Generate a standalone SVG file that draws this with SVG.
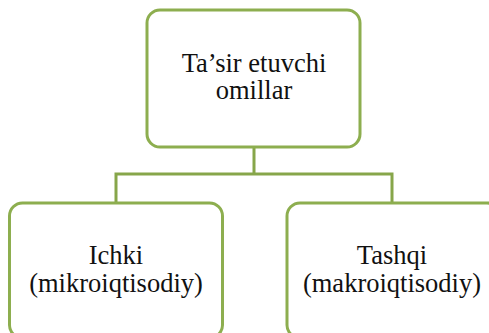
<svg xmlns="http://www.w3.org/2000/svg" width="489" height="333" viewBox="0 0 489 333">
<style>
.box{fill:#ffffff;stroke:#8DAE4F;stroke-width:3}
.conn{fill:none;stroke:#87A64A;stroke-width:3}
.t{font-family:"Liberation Serif","Times New Roman",serif;font-size:26.5px;fill:#111;text-anchor:middle}
</style>
<rect width="489" height="333" fill="#ffffff"/>
<g id="connectors">
<path class="conn" d="M254,147 V174 M116,174 H392 M116,172.5 V203 M392,172.5 V203"/>
</g>
<g id="node-top">
<rect class="box" x="147" y="10" width="213" height="137" rx="13"/>
<text class="t" x="254" y="72">Ta’sir etuvchi</text>
<text class="t" x="254" y="99">omillar</text>
</g>
<g id="node-left">
<rect class="box" x="9.5" y="203" width="213" height="135" rx="13"/>
<text class="t" x="116" y="264">Ichki</text>
<text class="t" x="116" y="292">(mikroiqtisodiy)</text>
</g>
<g id="node-right">
<rect class="box" x="287" y="203" width="213" height="135" rx="13"/>
<text class="t" x="392" y="264">Tashqi</text>
<text class="t" x="392" y="292">(makroiqtisodiy)</text>
</g>
</svg>
